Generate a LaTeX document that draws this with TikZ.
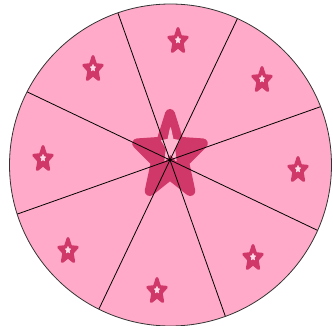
\documentclass[tikz,border=0pt]{standalone}
\usetikzlibrary{calc}
\definecolor{bgpink}{HTML}{FFAAC8}
\definecolor{starpink}{HTML}{D1386A}
\definecolor{holepink}{HTML}{FFDCE8}
\definecolor{bigholepink}{HTML}{FFB6CF}
\tikzset{
  starfill/.style={fill=starpink,draw=starpink,line join=round},
  holefill/.style={fill=holepink,draw=holepink,line join=round,line width=0.6pt},
  bigholefill/.style={fill=bigholepink,draw=bigholepink,line join=round,line width=1pt},
}
% #1 x, #2 y, #3 sx, #4 sy, #5 inner ratio, #6 style
\newcommand{\mystar}[6]{%
  \path[#6,shift={(#1,#2)},xscale=#3,yscale=#4]
    (270:1) -- (306:#5) -- (342:1) -- (18:#5) -- (54:1) -- (90:#5)
    -- (126:1) -- (162:#5) -- (198:1) -- (234:#5) -- cycle;}
% small star at bbox-centre #1,#2
\newcommand{\smallstar}[2]{%
  \mystar{#1}{#2+1.2}{9.7}{12.7}{0.45}{starfill,line width=2.9pt}%
  \mystar{#1}{#2}{2.8}{3.6}{0.45}{holefill}}
\begin{document}
\begin{tikzpicture}[x=1pt,y=-1pt]
\useasboundingbox (0,0) rectangle (333,326);
\coordinate (O) at (170.5,165);
\coordinate (C) at (170,160);
\fill[bgpink] (O) circle (161);
% big star
\mystar{170}{156.6}{34.5}{42.6}{0.43}{starfill,line width=10pt}
\mystar{170.5}{146}{9.5}{18}{0.45}{bigholefill}
% small stars
\smallstar{178}{40}
\smallstar{262}{79}
\smallstar{298}{169}
\smallstar{253}{257}
\smallstar{157}{290}
\smallstar{68}{250}
\smallstar{43}{158}
\smallstar{93}{68}
% spokes
\begin{scope}
\clip (O) circle (161);
\foreach \a in {19.5,64.5,109.5,154.5,199.5,244.5,289.5,334.5}{
  \draw[black,line width=0.8pt] (C) -- ($(C)+(-\a:200)$);
}
\end{scope}
\draw[black!80,line width=0.8pt] (O) circle (161);
\end{tikzpicture}
\end{document}
